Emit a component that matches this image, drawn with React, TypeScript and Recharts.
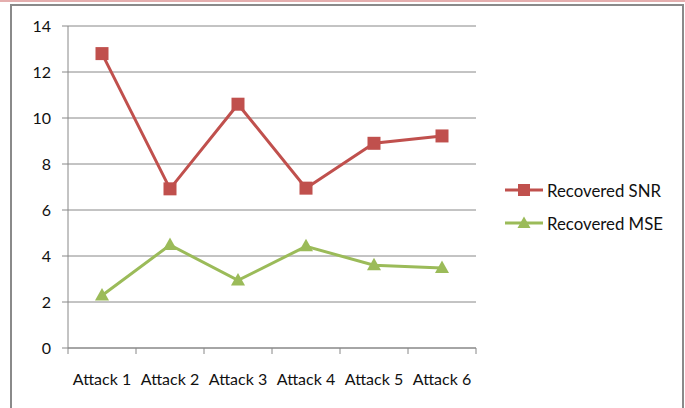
import React from "react";
import { LineChart, Line, XAxis, YAxis, CartesianGrid } from "recharts";

const categories = ["Attack 1", "Attack 2", "Attack 3", "Attack 4", "Attack 5", "Attack 6"];
const recoveredSnr = [12.8, 6.92, 10.6, 6.95, 8.9, 9.22];
const recoveredMse = [2.28, 4.48, 2.94, 4.42, 3.6, 3.48];
const yTicks = [0, 2, 4, 6, 8, 10, 12, 14];

const RED = "#C0504D";
const GREEN = "#9BBB59";
const GRID = "#888888";
const TEXT = "#111111";
const FONT = "Lato, 'Open Sans', sans-serif";

// category i sits in the middle of the band [i, i + 1]
const data = categories.map((name, i) => ({
  name,
  pos: i + 0.5,
  snr: recoveredSnr[i],
  mse: recoveredMse[i],
}));

// band edges get a tick mark, band centres get the category label
const xTicks: number[] = [];
for (let i = 0; i <= categories.length * 2; i++) xTicks.push(i / 2);

function SquareDot(props: any) {
  const { cx, cy } = props;
  if (cx == null || cy == null) return null;
  return <rect x={cx - 6.5} y={cy - 6.5} width={13} height={13} fill={RED} />;
}

function TriangleDot(props: any) {
  const { cx, cy } = props;
  if (cx == null || cy == null) return null;
  return (
    <polygon
      points={`${cx},${cy - 7.5} ${cx + 7},${cy + 5} ${cx - 7},${cy + 5}`}
      fill={GREEN}
    />
  );
}

function AttackTick(props: any) {
  const { x, y, payload } = props;
  const v = payload.value as number;
  if (Number.isInteger(v)) {
    return <line x1={x} x2={x} y1={y} y2={y + 6} stroke={GRID} strokeWidth={1} />;
  }
  return (
    <text
      x={x}
      y={y + 30}
      textAnchor="middle"
      dominantBaseline="central"
      fontSize={16}
      fontFamily={FONT}
      fill={TEXT}
    >
      {categories[Math.floor(v)]}
    </text>
  );
}

const legendItems = [
  { label: "Recovered SNR", color: RED, marker: "square" },
  { label: "Recovered MSE", color: GREEN, marker: "triangle" },
];

function LegendBox() {
  return (
    <div style={{ position: "absolute", left: 504, top: 180, fontFamily: FONT, fontSize: 16.8 }}>
      {legendItems.map((item) => (
        <div key={item.label} style={{ display: "flex", alignItems: "center", height: 20, marginBottom: 13 }}>
          <svg width={40} height={16} style={{ display: "block" }}>
            <line x1={1} x2={39} y1={8} y2={8} stroke={item.color} strokeWidth={3} />
            {item.marker === "square" ? (
              <rect x={14} y={2} width={12} height={12} fill={item.color} />
            ) : (
              <polygon points="20,1.5 26.5,13 13.5,13" fill={item.color} />
            )}
          </svg>
          <span style={{ marginLeft: 3, color: TEXT }}>{item.label}</span>
        </div>
      ))}
    </div>
  );
}

export default function App() {
  return (
    <div
      style={{
        position: "absolute",
        left: 0,
        top: 0,
        width: 685,
        height: 408,
        overflow: "hidden",
        background: "#fff",
      }}
    >
      <div style={{ position: "absolute", left: 0, top: 0, width: 685, height: 2, background: "#E4AEAE" }} />
      <div
        style={{
          position: "absolute",
          left: 10,
          top: 4,
          width: 670,
          height: 420,
          borderTop: "2px solid #8a8a8a",
          borderLeft: "2px solid #8a8a8a",
          borderRight: "2px solid #8a8a8a",
        }}
      />
      <div style={{ position: "absolute", left: 0, top: 0 }}>
        <LineChart
          width={685}
          height={408}
          data={data}
          margin={{ top: 26, right: 209, bottom: 20, left: 0 }}
        >
          <CartesianGrid vertical={false} stroke={GRID} strokeWidth={1} />
          <XAxis
            dataKey="pos"
            type="number"
            domain={[0, categories.length]}
            ticks={xTicks}
            interval={0}
            height={40}
            tickSize={0}
            tickMargin={0}
            tickLine={false}
            axisLine={{ stroke: GRID }}
            tick={<AttackTick />}
          />
          <YAxis
            domain={[0, 14]}
            ticks={yTicks}
            interval={0}
            width={68}
            tickSize={6}
            tickMargin={11}
            axisLine={{ stroke: GRID }}
            tickLine={{ stroke: GRID }}
            tick={{ fontSize: 16, fontFamily: FONT, fill: TEXT }}
          />
          <Line
            dataKey="snr"
            stroke={RED}
            strokeWidth={3}
            dot={<SquareDot />}
            activeDot={false}
            isAnimationActive={false}
          />
          <Line
            dataKey="mse"
            stroke={GREEN}
            strokeWidth={3}
            dot={<TriangleDot />}
            activeDot={false}
            isAnimationActive={false}
          />
        </LineChart>
      </div>
      <LegendBox />
    </div>
  );
}
